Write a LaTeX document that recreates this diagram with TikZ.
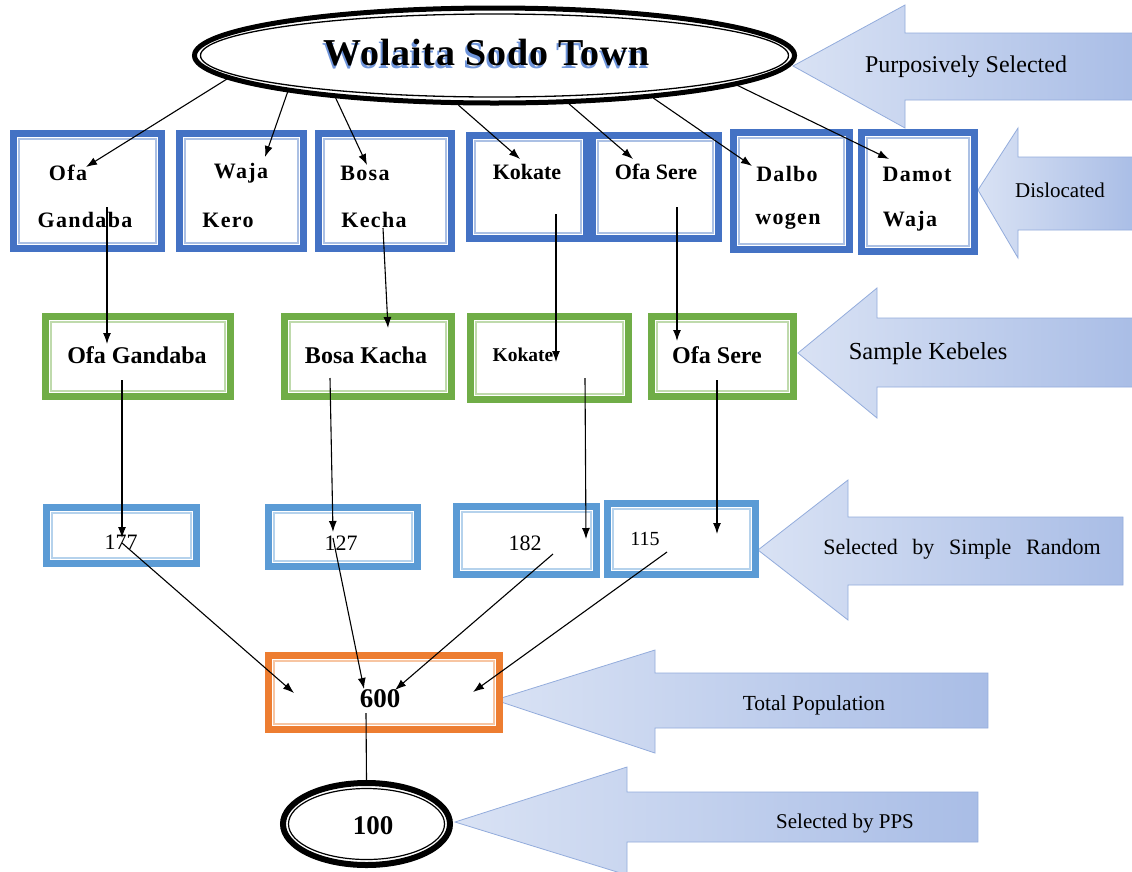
\documentclass[tikz,border=0pt]{standalone}
\usepackage{fontspec}
\setmainfont{Liberation Serif}
\usetikzlibrary{arrows.meta,shapes.geometric}
\definecolor{cblue}{HTML}{4472C4}
\definecolor{cgreen}{HTML}{70AD47}
\definecolor{clblue}{HTML}{5B9BD5}
\definecolor{corange}{HTML}{ED7D31}
\definecolor{arrL}{HTML}{D9E2F4}
\definecolor{arrD}{HTML}{A9BDE6}
\definecolor{arrB}{HTML}{93ACDC}
\definecolor{tshadow}{HTML}{6F95DB}
\tikzset{
 framed/.style={draw=#1, line width=7pt, inner sep=0pt, fill=white,
   path picture={\draw[line width=1.6pt, draw=#1!45] ([shift={(5.6pt,-5.6pt)}]path picture bounding box.north west) rectangle ([shift={(-5.6pt,5.6pt)}]path picture bounding box.south east);}},
 oval/.style={ellipse, draw=black, line width=#1, fill=white, inner sep=0pt},
 bigarrow/.style={draw=arrB, line width=0.8pt, left color=arrL, right color=arrD},
 conn/.style={line width=1.1pt, -{Latex[length=11pt,width=8pt]}},
 plainconn/.style={line width=1.1pt},
 bt/.style={inner sep=0pt, font=\fontsize{#1}{#1}\selectfont\bfseries},
 bts/.style={inner sep=0pt, font=\fontsize{#1}{#1}\selectfont\bfseries\addfontfeature{LetterSpace=6}},
 rt/.style={inner sep=0pt, font=\fontsize{#1}{#1}\selectfont},
 titletext/.style={inner sep=0pt, font=\fontsize{38}{38}\selectfont\bfseries\addfontfeature{LetterSpace=2}},
}
\newcommand\mybox[6]{\node[framed=#6, minimum width={#4-#2-7}, minimum height={#5-#3-7}] (#1) at ({(#2+#4)/2},{(#3+#5)/2}) {};}
\begin{document}
\begin{tikzpicture}[x=1pt,y=-1pt]
\useasboundingbox[fill=white] (0,0) rectangle (1132,871);
% block arrows
\draw[bigarrow] (793,66) -- (905,5) -- (905,33) -- (1136,33) -- (1136,100) -- (905,100) -- (905,128) -- cycle;
\draw[bigarrow] (978,190) -- (1018,128) -- (1018,157) -- (1136,157) -- (1136,230) -- (1018,230) -- (1018,258) -- cycle;
\draw[bigarrow] (798,353) -- (877,288) -- (877,318) -- (1136,318) -- (1136,387) -- (877,387) -- (877,418) -- cycle;
\draw[bigarrow] (758,550) -- (848,480) -- (848,517) -- (1123,517) -- (1123,585) -- (848,585) -- (848,620) -- cycle;
\draw[bigarrow] (495,700) -- (655,650) -- (655,673) -- (988,673) -- (988,728) -- (655,728) -- (655,753) -- cycle;
\draw[bigarrow] (455,822) -- (627,767) -- (627,792) -- (978,792) -- (978,842) -- (627,842) -- (627,875) -- cycle;
\node[rt=24] (lab1) at (966,67) {Purposively Selected};
\node[rt=21] (lab2) at (1060,190) {Dislocated};
\node[rt=24.5] (lab3) at (928,354) {Sample Kebeles};
\node[rt=22] (lab4) at (962,549) {Selected\ \ \,by\ \ \,Simple\ \ \,Random};
\node[rt=21.5] (lab5) at (814,705) {Total Population};
\node[rt=21] (lab6) at (845,823) {Selected by PPS};
% ellipses
\node[oval=5pt, minimum width=600pt, minimum height=95pt] (town) at (494.5,55.5) {};
\draw[line width=1.3pt] (town.center) ellipse [x radius=294pt, y radius=41.5pt];
\node[titletext, text=tshadow] (titleshadow) at (485.5,55.5) {Wolaita Sodo Town};
\node[titletext] (title) at (487,53) {Wolaita Sodo Town};
\node[oval=6pt, minimum width=167pt, minimum height=82pt] (pps) at (366.5,824) {};
\draw[line width=1.2pt] (pps.center) ellipse [x radius=78pt, y radius=35.5pt];
\node[bt=27] (hundred) at (373,826) {100};
% row 1
\mybox{b1}{10}{130}{165}{252}{cblue}
\mybox{b2}{176}{130}{307}{252}{cblue}
\mybox{b3}{315}{130}{455}{252}{cblue}
\mybox{b4}{466}{132}{590}{242}{cblue}
\mybox{b5}{589}{132}{722}{242}{cblue}
\mybox{b6}{730}{129}{853}{253}{cblue}
\mybox{b7}{858}{129}{978}{255}{cblue}
\node[bts=22] (t1a) at (68,173) {Ofa};
\node[bts=22] (t1b) at (85,220) {Gandaba};
\node[bts=22] (t2a) at (241,173) {Waja};
\node[bts=22] (t2b) at (228,220) {Kero};
\node[bts=22] (t3a) at (365,173) {Bosa};
\node[bts=22] (t3b) at (374,220) {Kecha};
\node[bt=22] (t4a) at (527,172) {Kokate};
\node[bt=22] (t5a) at (656,172) {Ofa Sere};
\node[bts=22] (t6a) at (787,174) {Dalbo};
\node[bts=22] (t6b) at (788,221) {wogen};
\node[bts=22] (t7a) at (917,174) {Damot};
\node[bts=22] (t7b) at (910,221) {Waja};
% row 2
\mybox{g1}{42}{313}{234}{400}{cgreen}
\mybox{g2}{281}{313}{455}{400}{cgreen}
\mybox{g3}{467}{313}{632}{403}{cgreen}
\mybox{g4}{648}{313}{797}{400}{cgreen}
\node[bt=24] (u1) at (137,355) {Ofa Gandaba};
\node[bt=24] (u2) at (366,355) {Bosa Kacha};
\node[bt=19.5] (u3) at (523,355) {Kokate};
\node[bt=24] (u4) at (717,355) {Ofa Sere};
% row 3
\mybox{n1}{43}{504}{200}{567}{clblue}
\mybox{n2}{265}{504}{421}{570}{clblue}
\mybox{n3}{453}{503}{600}{578}{clblue}
\mybox{n4}{604}{500}{759}{578}{clblue}
\node[rt=22] (v1) at (121,542) {177};
\node[rt=22] (v2) at (341,543) {127};
\node[rt=22] (v3) at (525,543) {182};
\node[rt=20] (v4) at (645,539) {115};
% total
\mybox{tot}{265}{652}{503}{733}{corange}
\node[bt=27] (six) at (380,699) {600};
% connector coordinates
\coordinate (e1) at (86,167);
\coordinate (e2) at (265,157);
\coordinate (e3) at (367,165);
\coordinate (e4) at (520,159);
\coordinate (e5) at (633,159);
\coordinate (e6) at (752,166);
\coordinate (e7) at (889,159);
\coordinate (s1) at (107,207);
\coordinate (s2) at (383,228);
\coordinate (s3) at (556,214);
\coordinate (s4) at (677,207);
\coordinate (f1) at (107,344);
\coordinate (f2) at (388,328);
\coordinate (f3) at (556,362);
\coordinate (f4) at (677,341);
\coordinate (r1) at (122,380);
\coordinate (r2) at (330,378);
\coordinate (r3) at (585,378);
\coordinate (r4) at (717,380);
\coordinate (h1) at (122,538);
\coordinate (h2) at (333,532);
\coordinate (h3) at (586,539);
\coordinate (h4) at (717,534);
\coordinate (k1) at (122,543);
\coordinate (k2) at (333,538);
\coordinate (k3) at (553,554);
\coordinate (k4) at (667,552);
\coordinate (m1) at (294,693);
\coordinate (m2) at (364,689);
\coordinate (m3) at (395,690);
\coordinate (m4) at (473,692);
\coordinate (q) at (366,713);
% connectors
\draw[conn] (town.185) -- (e1);
\draw[conn] (town.190) -- (e2);
\draw[conn] (town.195) -- (e3);
\draw[conn] (town.234) -- (e4);
\draw[conn] (town.327) -- (e5);
\draw[conn] (town.345) -- (e6);
\draw[conn] (town.353) -- (e7);
\draw[conn] (s1) -- (f1);
\draw[conn] (s2) -- (f2);
\draw[conn] (s3) -- (f3);
\draw[conn] (s4) -- (f4);
\draw[conn] (r1) -- (h1);
\draw[conn] (r2) -- (h2);
\draw[conn] (r3) -- (h3);
\draw[conn] (r4) -- (h4);
\draw[conn] (k1) -- (m1);
\draw[conn] (k2) -- (m2);
\draw[conn] (k3) -- (m3);
\draw[conn] (k4) -- (m4);
\draw[plainconn] (q) -- (pps.north);
\end{tikzpicture}
\end{document}
